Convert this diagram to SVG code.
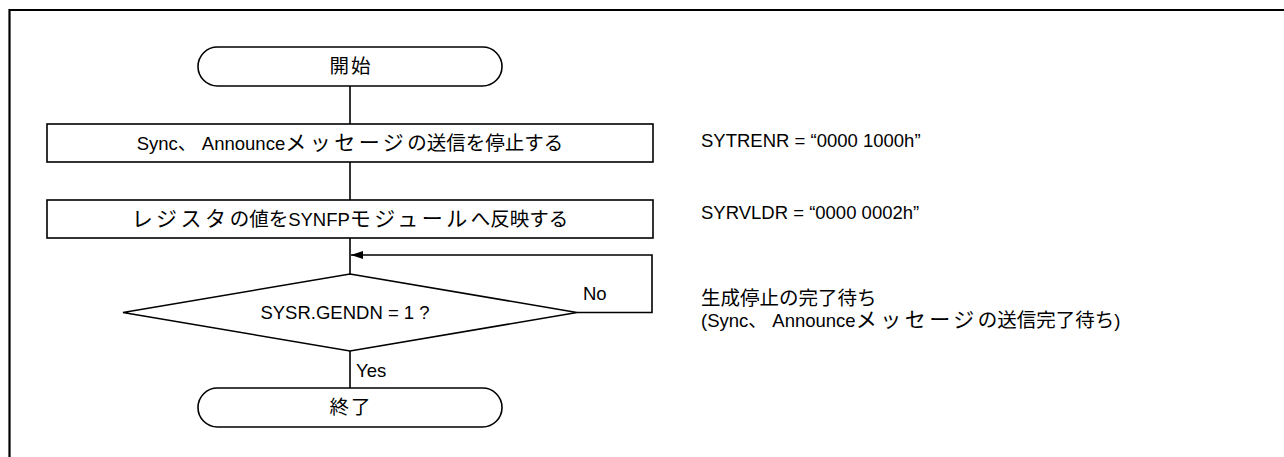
<svg xmlns="http://www.w3.org/2000/svg" width="1284" height="457" viewBox="0 0 1284 457">
<style>
.shape{fill:#fff;stroke:#000;stroke-width:1.6}
.line{fill:none;stroke:#000;stroke-width:1.6}
text{font-family:"Liberation Sans","Noto Sans CJK JP",sans-serif;font-size:18.5px;fill:#000}
.c{text-anchor:middle}
.k{font-size:19.5px}
.kk{font-size:21px;letter-spacing:3.5px}
.p{font-size:19px;letter-spacing:5px}
.t{font-size:19.5px;letter-spacing:2px}
</style>
<defs>
<marker id="arr" markerWidth="12" markerHeight="8" refX="12" refY="4" orient="auto" markerUnits="userSpaceOnUse">
<path d="M0,0 L12,4 L0,8 Z" fill="#000"/>
</marker>
</defs>
<rect width="1284" height="457" fill="#fff"/>
<path d="M9.5,457 V10 H1284" fill="none" stroke="#000" stroke-width="2.2"/>
<g id="connectors">
<line class="line" x1="350" y1="86" x2="350" y2="124"/>
<line class="line" x1="350" y1="162" x2="350" y2="200"/>
<line class="line" x1="350" y1="238" x2="350" y2="274"/>
<path class="line" d="M577,312.5 H652 V255 H351" marker-end="url(#arr)"/>
<line class="line" x1="350" y1="351" x2="350" y2="388"/>
<text x="583" y="300">No</text>
<text x="356" y="377">Yes</text>
</g>
<g id="start">
<rect class="shape" x="198" y="47" width="304" height="39" rx="19.5"/>
<text class="c t" x="351" y="73">開始</text>
</g>
<g id="stop-sync">
<rect class="shape" x="47" y="124" width="606" height="38"/>
<text class="c" x="350" y="150">Sync<tspan class="p">、</tspan>Announce<tspan class="kk">メッセージ</tspan><tspan class="k">の送信を停止する</tspan></text>
</g>
<g id="reflect">
<rect class="shape" x="47" y="200" width="606" height="38"/>
<text class="c" x="350" y="226"><tspan class="kk">レジスタ</tspan><tspan class="k">の値を</tspan>SYNFP<tspan class="kk">モジュール</tspan><tspan class="k">へ反映する</tspan></text>
</g>
<g id="check">
<polygon class="shape" points="350,274 577,312.5 350,351 123,312.5"/>
<text class="c" x="345" y="319">SYSR.GENDN = 1 ?</text>
</g>
<g id="end">
<rect class="shape" x="198" y="388" width="304" height="39" rx="19.5"/>
<text class="c t" x="351" y="414">終了</text>
</g>
<g id="notes">
<text x="701" y="147">SYTRENR = “0000 1000h”</text>
<text x="701" y="219">SYRVLDR = “0000 0002h”</text>
<text x="701" y="305"><tspan class="k">生成停止の完了待ち</tspan></text>
<text x="701" y="327">(Sync<tspan class="p">、</tspan>Announce<tspan class="kk">メッセージ</tspan><tspan class="k">の送信完了待ち</tspan>)</text>
</g>
</svg>
